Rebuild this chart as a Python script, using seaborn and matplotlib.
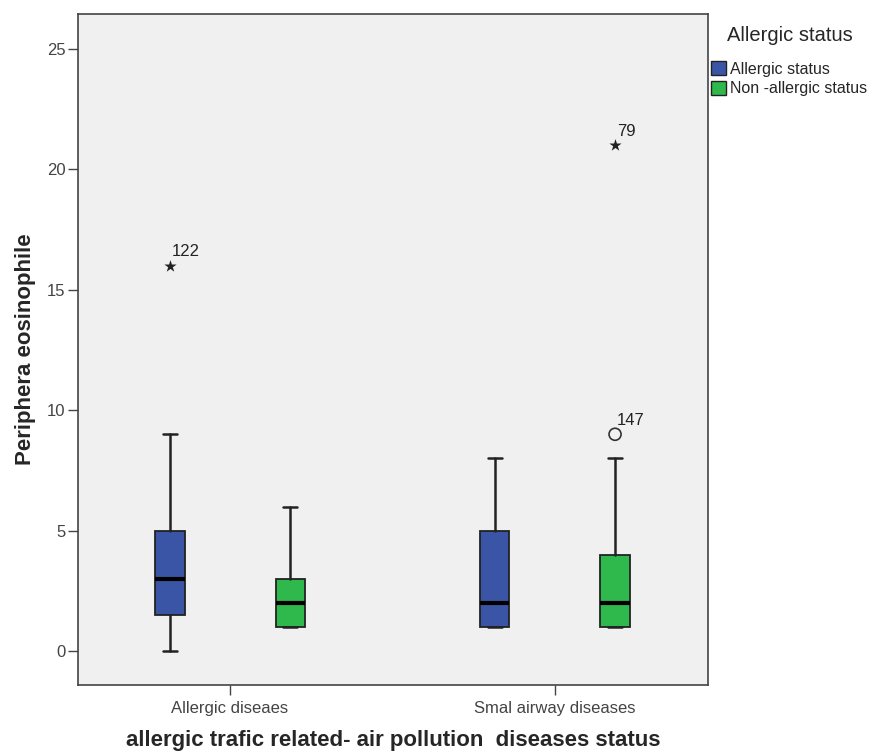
import matplotlib
matplotlib.use("Agg")
import matplotlib.pyplot as plt
import seaborn as sns
from matplotlib.patches import Patch

# summary values
groups = ["Allergic diseaes", "Smal airway diseases"]
status = ["Allergic status", "Non -allergic status"]
colors = ["#3a55a6", "#2fb84c"]

whis_lo = [[0, 1], [1, 1]]
q1 = [[1.5, 1], [1, 1]]
med = [[3, 2], [2, 2]]
q3 = [[5, 3], [5, 4]]
whis_hi = [[9, 6], [8, 8]]

# outliers: (group, status, value, case id, kind)
out_group = [0, 1, 1]
out_status = [0, 1, 1]
out_value = [16, 21, 9]
out_case = ["122", "79", "147"]
out_kind = ["extreme", "extreme", "outlier"]

sns.set_style("white")
plt.rcParams['font.family'] = ['Liberation Sans', 'DejaVu Sans']

fig = plt.figure(figsize=(8.72, 7.52), dpi=100)
ax = fig.add_axes([0.0894, 0.0891, 0.7225, 0.8923])
ax.set_facecolor("#f0f0f0")

offset = 0.185
width = 0.09
for g in range(len(groups)):
    for s in range(len(status)):
        stats = [dict(whislo=whis_lo[g][s], q1=q1[g][s], med=med[g][s],
                      q3=q3[g][s], whishi=whis_hi[g][s], fliers=[])]
        pos = g + (s - 0.5) * 2 * offset
        ax.bxp(stats, positions=[pos], widths=width, patch_artist=True,
               showfliers=False, manage_ticks=False,
               boxprops=dict(facecolor=colors[s], edgecolor="#222222", linewidth=1.3),
               medianprops=dict(color="black", linewidth=3),
               whiskerprops=dict(color="#222222", linewidth=1.8),
               capprops=dict(color="#222222", linewidth=1.8),
               capwidths=width / 2)

for g, s, v, c, k in zip(out_group, out_status, out_value, out_case, out_kind):
    pos = g + (s - 0.5) * 2 * offset
    if k == "extreme":
        ax.scatter([pos], [v], marker="*", s=85, color="#222222", linewidths=0, zorder=4)
    else:
        ax.scatter([pos], [v], marker="o", s=75, facecolors="none",
                   edgecolors="#333333", linewidths=1.2, zorder=4)
    ax.annotate(c, (pos, v), xytext=(1.5, 7), textcoords="offset points",
                fontsize=12, color="#222222")

ax.set_xlim(-0.468, 1.471)
ax.set_ylim(-1.41, 26.45)
ax.set_yticks([0, 5, 10, 15, 20, 25])
ax.set_xticks(range(len(groups)))
ax.set_xticklabels(groups, fontsize=11.5)
ax.tick_params(axis="both", direction="out", length=7.5, width=1, color="#444444",
               labelcolor="#444444", labelsize=12, bottom=True, left=True)
ax.tick_params(axis="x", pad=4)
ax.tick_params(axis="y", pad=1.5)
for sp in ax.spines.values():
    sp.set_color("#444444")
    sp.set_linewidth(1.2)

ax.set_ylabel("Periphera eosinophile", fontsize=16, fontweight="bold", labelpad=8)
ax.set_xlabel("allergic trafic related- air pollution  diseases status",
              fontsize=16, fontweight="bold", labelpad=10)

handles = [Patch(facecolor=colors[i], edgecolor="#222222", label=status[i]) for i in range(2)]
leg = fig.legend(handles=handles, title="Allergic status", loc="upper left",
                 bbox_to_anchor=(0.812, 0.97), frameon=False, fontsize=11.5,
                 title_fontsize=14.5, handlelength=0.9, handleheight=0.9,
                 handletextpad=0.3, labelspacing=0.3, borderaxespad=0,
                 borderpad=0.2)
leg._legend_box.align = "left"
leg.get_title().set_position((16, 0))
leg._legend_box.sep = 12

fig.savefig("out.png", dpi=100, facecolor="white")
